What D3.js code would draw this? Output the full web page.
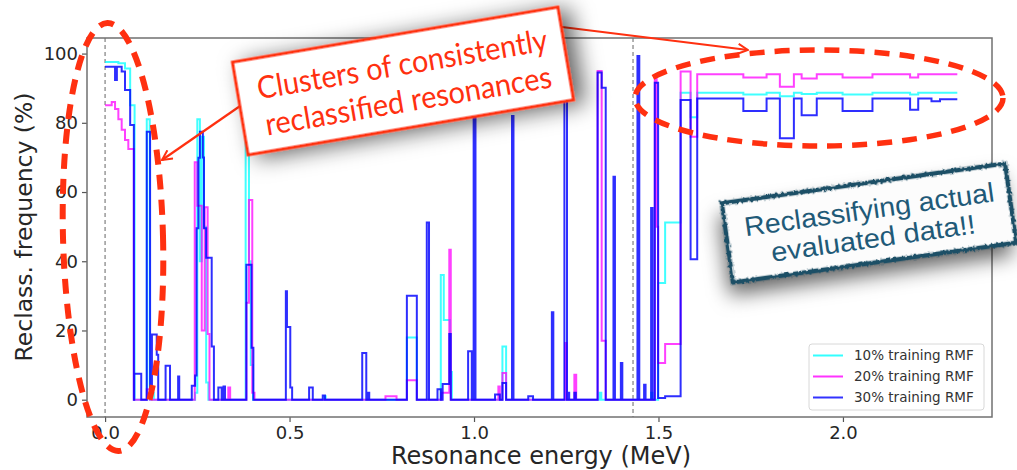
<!DOCTYPE html>
<html>
<head>
<meta charset="utf-8">
<script src="https://cdn.jsdelivr.net/npm/d3@7"></script>
<style>
  body { margin: 0; background: #fff; }
  svg { display: block; }
  text { font-family: "DejaVu Sans", sans-serif; }
</style>
</head>
<body>
<svg id="chart" width="1017" height="470"></svg>
<script>
// step points [energy (MeV), reclass. frequency (%)], value holds until next point
var rmf10 = [
  [0.000, 97.6], [0.036, 97.2], [0.054, 95.7], [0.068, 85.1], [0.080, 0],
  [0.113, 81], [0.121, 0], [0.128, 2], [0.132, 0],
  [0.244, 2], [0.250, 81], [0.257, 40], [0.262, 76], [0.268, 50], [0.274, 5], [0.280, 0],
  [0.381, 76], [0.390, 40], [0.395, 10], [0.401, 0],
  [0.594, 1], [0.598, 0],
  [0.818, 18], [0.845, 0],
  [0.910, 36], [0.918, 23], [0.935, 8], [0.940, 0],
  [1.077, 15.4], [1.087, 0],
  [1.340, 2], [1.345, 0], [1.480, 2], [1.484, 0],
  [1.499, 33.7], [1.518, 51.2], [1.560, 88.7], [1.587, 81.6], [1.605, 88.7],
  [1.730, 88.2], [1.793, 88.7], [1.829, 87.7], [1.867, 88.7], [1.888, 88.3],
  [1.929, 88.7], [1.999, 88.2], [2.080, 88.7], [2.182, 88.2], [2.204, 88.7], [2.310, 88.7]
];

var rmf20 = [
  [0.000, 85.1], [0.018, 86], [0.027, 84], [0.036, 81], [0.045, 78], [0.054, 75], [0.063, 72.4], [0.078, 0],
  [0.113, 3], [0.122, 0],
  [0.243, 68.6], [0.250, 56], [0.262, 20], [0.270, 55.6], [0.278, 19], [0.283, 0],
  [0.334, 3.5], [0.339, 0],
  [0.383, 28], [0.390, 57.7], [0.399, 2], [0.405, 0],
  [0.760, 1], [0.790, 0],
  [0.818, 5.6], [0.845, 0],
  [0.912, 2], [0.933, 43.3], [0.937, 0],
  [1.066, 3.8], [1.070, 0], [1.077, 7.7], [1.087, 0],
  [1.247, 16.4], [1.251, 0], [1.272, 7.2], [1.277, 0],
  [1.335, 95], [1.346, 17], [1.357, 0],
  [1.490, 93], [1.495, 50], [1.499, 10.6], [1.518, 16.1], [1.560, 94.8], [1.587, 76], [1.605, 94.0],
  [1.730, 93.1], [1.793, 94.0], [1.829, 90.4], [1.867, 94.0], [1.888, 92.8],
  [1.929, 94.0], [1.999, 93.1], [2.080, 94.0], [2.182, 93.1], [2.204, 94.0], [2.310, 94.0]
];

var rmf30 = [
  [0.000, 96.2], [0.027, 92.4], [0.032, 96.2], [0.045, 94.8], [0.054, 89.5], [0.068, 79.4], [0.078, 0],
  [0.079, 7.5], [0.098, 0],
  [0.113, 77.4], [0.122, 3], [0.127, 18.8], [0.140, 13], [0.144, 0],
  [0.164, 9.8], [0.176, 0], [0.198, 6.7], [0.201, 0],
  [0.235, 4], [0.244, 7], [0.248, 49.5], [0.253, 69.9], [0.257, 77.4], [0.265, 70], [0.268, 49.5],
  [0.274, 41], [0.289, 15.4], [0.295, 0],
  [0.307, 3.5], [0.316, 0], [0.321, 3.8], [0.325, 0],
  [0.383, 39], [0.397, 15], [0.402, 0],
  [0.490, 31.3], [0.493, 21], [0.502, 3.5], [0.507, 0],
  [0.553, 3.5], [0.563, 0], [0.590, 1.2], [0.596, 0],
  [0.697, 13.5], [0.708, 0], [0.712, 2], [0.716, 0],
  [0.818, 30], [0.845, 0],
  [0.872, 51.2], [0.878, 0],
  [0.901, 3], [0.910, 0], [0.915, 4.5], [0.933, 19], [0.937, 0],
  [0.984, 14], [0.994, 0],
  [0.999, 89.5], [1.004, 0],
  [1.057, 1.5], [1.070, 0], [1.077, 4.8], [1.087, 0],
  [1.103, 82], [1.107, 0],
  [1.147, 1], [1.160, 0],
  [1.211, 25.3], [1.215, 0],
  [1.245, 97], [1.252, 0], [1.254, 2], [1.258, 0], [1.272, 2], [1.276, 0],
  [1.335, 94.5], [1.346, 90.1], [1.357, 0],
  [1.378, 64.4], [1.382, 0], [1.398, 10.6], [1.402, 0],
  [1.443, 99.3], [1.448, 0], [1.461, 4.3], [1.465, 0],
  [1.480, 55.4], [1.484, 0],
  [1.490, 91.6], [1.499, 0.5], [1.518, 1], [1.560, 86.6], [1.587, 40.6], [1.605, 87.0],
  [1.730, 83.4], [1.793, 87.0], [1.829, 75.5], [1.867, 87.0], [1.888, 82.2],
  [1.929, 87.0], [1.999, 83.4], [2.080, 87.0], [2.182, 83.8], [2.204, 87.0],
  [2.240, 86.2], [2.263, 86.8], [2.310, 86.8]
];

var seriesNames = ["10% training RMF", "20% training RMF", "30% training RMF"];
var seriesColors = ["#00ffff", "#ff00ff", "#0000ff"];
var xTicks = [0.0, 0.5, 1.0, 1.5, 2.0];
var yTicks = [0, 20, 40, 60, 80, 100];
var markerLines = [0.0, 1.431];

var svg = d3.select("#chart");
var plotL = 87, plotR = 992, plotT = 38, plotB = 417;

var x = d3.scaleLinear().domain([-0.049, 2.404]).range([plotL, plotR]);
var y = d3.scaleLinear().domain([-5, 104.5]).range([plotB, plotT]);

var defs = svg.append("defs");

var shadow = defs.append("filter").attr("id", "shadow")
  .attr("x", "-30%").attr("y", "-60%").attr("width", "170%").attr("height", "240%");
shadow.append("feDropShadow")
  .attr("dx", 10).attr("dy", 4).attr("stdDeviation", 11)
  .attr("flood-color", "#000").attr("flood-opacity", 0.6);

var shadow2 = defs.append("filter").attr("id", "shadow2")
  .attr("x", "-30%").attr("y", "-60%").attr("width", "170%").attr("height", "240%");
shadow2.append("feDropShadow")
  .attr("dx", -5).attr("dy", 12).attr("stdDeviation", 10)
  .attr("flood-color", "#000").attr("flood-opacity", 0.6);

var rough = defs.append("filter").attr("id", "rough")
  .attr("x", "-10%").attr("y", "-20%").attr("width", "120%").attr("height", "140%");
rough.append("feTurbulence")
  .attr("type", "fractalNoise").attr("baseFrequency", 0.35).attr("numOctaves", 2).attr("result", "noise");
rough.append("feDisplacementMap")
  .attr("in", "SourceGraphic").attr("in2", "noise").attr("scale", 4);

defs.append("marker").attr("id", "arrow")
  .attr("viewBox", "0 0 12 12").attr("refX", 11).attr("refY", 6)
  .attr("markerWidth", 12).attr("markerHeight", 12)
  .attr("markerUnits", "userSpaceOnUse").attr("orient", "auto")
  .append("path")
  .attr("d", "M1,1 L11,6 L1,11")
  .attr("fill", "none").attr("stroke", "#ff3010").attr("stroke-width", 2);

defs.append("clipPath").attr("id", "plotclip")
  .append("rect").attr("x", plotL).attr("y", plotT)
  .attr("width", plotR - plotL).attr("height", plotB - plotT);

// dashed markers
svg.append("g").selectAll("line")
  .data(markerLines)
  .join("line")
  .attr("x1", d => x(d)).attr("x2", d => x(d))
  .attr("y1", plotT).attr("y2", plotB)
  .attr("stroke", "#8a8a8a").attr("stroke-width", 1.3)
  .attr("stroke-dasharray", "4,3");

var line = d3.line()
  .x(d => x(d[0]))
  .y(d => y(d[1]))
  .curve(d3.curveStepAfter);

svg.append("g").attr("clip-path", "url(#plotclip)")
  .selectAll("path")
  .data([rmf10, rmf20, rmf30])
  .join("path")
  .attr("d", line)
  .attr("fill", "none")
  .attr("stroke", (d, i) => seriesColors[i])
  .attr("stroke-width", 2)
  .attr("stroke-opacity", (d, i) => i === 2 ? 0.82 : 0.75)
  .attr("stroke-linejoin", "miter");

// axes
var xAxis = svg.append("g")
  .attr("transform", "translate(0," + plotB + ")")
  .call(d3.axisBottom(x).tickValues(xTicks).tickFormat(d3.format(".1f")).tickSize(5).tickPadding(4));
var yAxis = svg.append("g")
  .attr("transform", "translate(" + plotL + ",0)")
  .call(d3.axisLeft(y).tickValues(yTicks).tickSize(5).tickPadding(4));

[xAxis, yAxis].forEach(function (g) {
  g.select(".domain").remove();
  g.selectAll(".tick line").attr("stroke", "#555").attr("stroke-width", 1.2);
  g.selectAll(".tick text")
    .attr("fill", "#262626")
    .style("font-size", "18px")
    .style("font-family", "DejaVu Sans");
});

svg.append("rect")
  .attr("x", plotL).attr("y", plotT)
  .attr("width", plotR - plotL).attr("height", plotB - plotT)
  .attr("fill", "none").attr("stroke", "#707070").attr("stroke-width", 1.5);

svg.append("text")
  .attr("x", 541).attr("y", 464)
  .attr("text-anchor", "middle")
  .attr("fill", "#262626")
  .style("font-size", "24px")
  .text("Resonance energy (MeV)");

svg.append("text")
  .attr("transform", "translate(32,227) rotate(-90)")
  .attr("text-anchor", "middle")
  .attr("fill", "#262626")
  .style("font-size", "23.5px")
  .text("Reclass. frequency (%)");

// legend
var legend = svg.append("g").attr("transform", "translate(809,344)");
legend.append("rect")
  .attr("width", 175).attr("height", 66).attr("rx", 3)
  .attr("fill", "#fff").attr("fill-opacity", 0.85)
  .attr("stroke", "#d8d8d8").attr("stroke-width", 1);
var rows = legend.selectAll("g.row")
  .data(seriesNames)
  .join("g")
  .attr("class", "row")
  .attr("transform", (d, i) => "translate(0," + (11.5 + i * 21) + ")");
rows.append("line")
  .attr("x1", 4).attr("x2", 34)
  .attr("stroke", (d, i) => seriesColors[i])
  .attr("stroke-width", 2).attr("stroke-opacity", 0.8);
rows.append("text")
  .attr("x", 45).attr("dy", "0.35em")
  .attr("fill", "#333")
  .style("font-size", "13.5px")
  .text(d => d);

// annotations
var red = "#ff3010";

svg.append("ellipse")
  .attr("transform", "translate(113,237) rotate(-1.5)")
  .attr("rx", 50).attr("ry", 214)
  .attr("fill", "none").attr("stroke", red)
  .attr("stroke-width", 6).attr("stroke-dasharray", "15,10");

svg.append("ellipse")
  .attr("cx", 819).attr("cy", 98)
  .attr("rx", 184).attr("ry", 48)
  .attr("fill", "none").attr("stroke", red)
  .attr("stroke-width", 5.5).attr("stroke-dasharray", "15,10");

svg.append("line")
  .attr("x1", 243).attr("y1", 104).attr("x2", 162).attr("y2", 160)
  .attr("stroke", red).attr("stroke-width", 2.2)
  .attr("marker-end", "url(#arrow)");
svg.append("line")
  .attr("x1", 562).attr("y1", 27).attr("x2", 748).attr("y2", 50)
  .attr("stroke", red).attr("stroke-width", 2.2)
  .attr("marker-end", "url(#arrow)");

var callout = svg.append("g").attr("transform", "translate(403,81) rotate(-9.6)");
callout.append("rect")
  .attr("x", -165).attr("y", -47).attr("width", 330).attr("height", 94)
  .attr("fill", "#fff").attr("stroke", red).attr("stroke-width", 3)
  .attr("filter", "url(#shadow)");
callout.selectAll("text")
  .data(["Clusters of consistently", "reclassified resonances"])
  .join("text")
  .attr("x", 2).attr("y", (d, i) => -6 + i * 37)
  .attr("text-anchor", "middle")
  .attr("fill", red)
  .attr("textLength", (d, i) => i === 0 ? 294 : 290)
  .attr("lengthAdjust", "spacingAndGlyphs")
  .style("font-family", "Lato, sans-serif")
  .style("font-size", "31px")
  .text(d => d);

var note = svg.append("g").attr("transform", "translate(869,223) rotate(-8)");
note.append("rect")
  .attr("x", -143).attr("y", -40).attr("width", 286).attr("height", 80)
  .attr("fill", "#fcfcfc")
  .attr("filter", "url(#shadow2)");
note.append("rect")
  .attr("x", -143).attr("y", -40).attr("width", 286).attr("height", 80)
  .attr("fill", "none").attr("stroke", "#1d4f66").attr("stroke-width", 4.5)
  .attr("filter", "url(#rough)");
note.selectAll("text")
  .data(["Reclassifying actual", "evaluated data!!"])
  .join("text")
  .attr("x", 2).attr("y", (d, i) => -4 + i * 29)
  .attr("text-anchor", "middle")
  .attr("fill", "#1f5a78")
  .attr("textLength", (d, i) => i === 0 ? 252 : 206)
  .attr("lengthAdjust", "spacingAndGlyphs")
  .style("font-family", "Liberation Sans, Arial, sans-serif")
  .style("font-size", "27px")
  .text(d => d);
</script>
</body>
</html>
